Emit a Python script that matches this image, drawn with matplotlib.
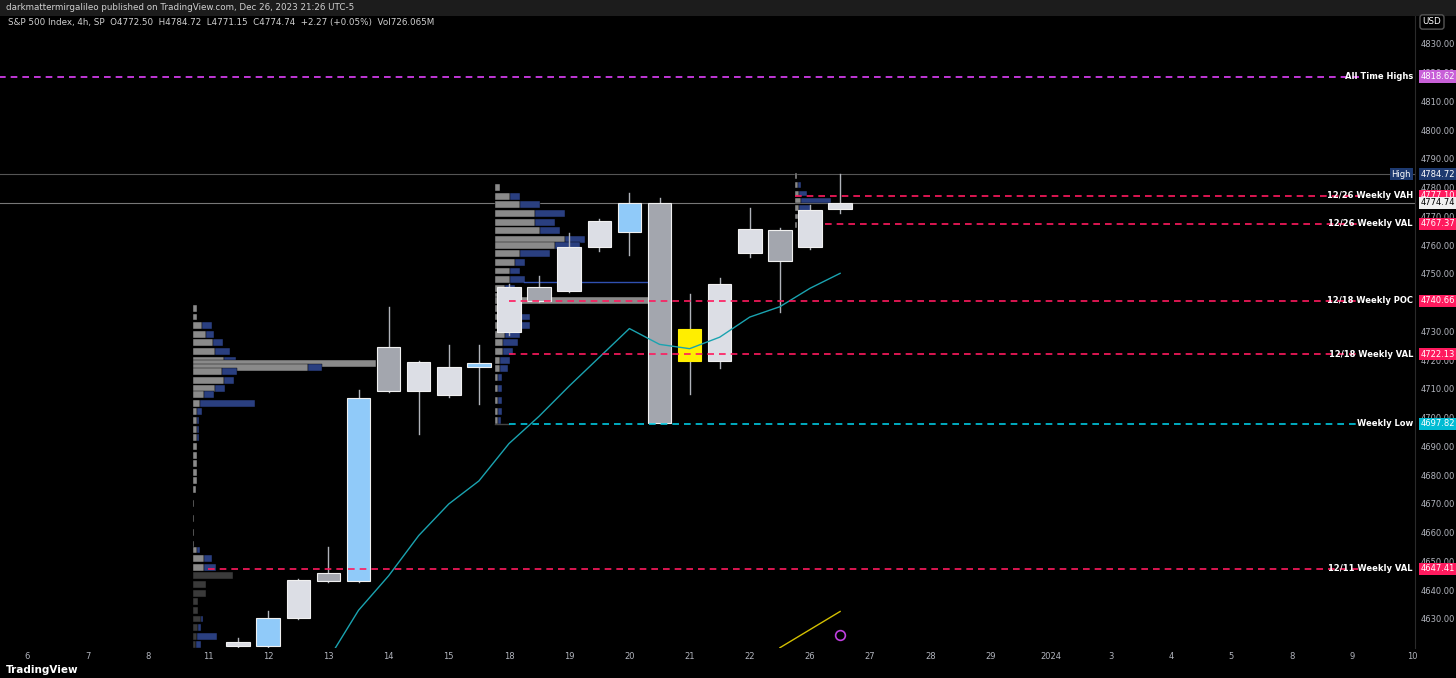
import matplotlib
matplotlib.use("Agg")
import matplotlib.pyplot as plt
from matplotlib.patches import Rectangle
import matplotlib.transforms as mtransforms

# ---------------- data ----------------
bar_idx = list(range(1, 22))
opens  = [4620.5, 4620.6, 4630.5, 4643.3, 4643.2, 4724.5, 4719.3, 4717.5, 4717.5, 4729.7, 4745.6,
          4744.0, 4759.5, 4764.5, 4774.7, 4730.8, 4719.6, 4757.4, 4765.3, 4759.2, 4772.50]
highs  = [4623.5, 4632.8, 4643.8, 4655.2, 4709.6, 4738.5, 4719.8, 4725.3, 4725.3, 4746.5, 4749.3,
          4764.1, 4769.0, 4778.1, 4776.3, 4743.0, 4748.5, 4772.8, 4766.0, 4773.8, 4784.72]
lows   = [4619.0, 4619.0, 4630.0, 4642.9, 4642.9, 4709.0, 4694.2, 4707.3, 4704.7, 4728.6, 4740.4,
          4743.6, 4757.8, 4756.7, 4698.0, 4708.4, 4717.4, 4755.8, 4736.7, 4758.6, 4771.15]
closes = [4622.0, 4630.5, 4643.6, 4646.1, 4706.8, 4709.3, 4709.3, 4707.8, 4718.9, 4745.6, 4740.6,
          4759.4, 4768.3, 4774.7, 4698.3, 4719.7, 4746.6, 4765.5, 4754.6, 4772.3, 4774.74]
colors = ["w", "b", "w", "g", "b", "g", "w", "w", "b", "w", "g",
          "w", "w", "b", "g", "y", "w", "w", "g", "w", "w"]

ema_idx = [4, 5, 6, 7, 8, 9, 10, 11, 12, 13, 14, 15, 16, 17, 18, 19, 20, 21]
ema_val = [4616, 4633, 4645, 4659, 4670, 4678, 4691, 4700.5, 4711, 4721, 4731, 4725.5, 4724,
           4728, 4735, 4738.6, 4745, 4750.2]
yel_idx = [19, 21]
yel_val = [4620, 4632.6]

level_prices = [4818.62, 4777.10, 4767.37, 4740.66, 4722.13, 4697.82, 4647.41]
level_labels = ["All Time Highs", "12/26 Weekly VAH", "12/26 Weekly VAL", "12/18 Weekly POC",
                "12/18 Weekly VAL", "Weekly Low", "12/11 Weekly VAL"]
level_start = [-7, 19.5, 20.5, 10, 10, 10, 0]

vp1_price = [4738, 4735, 4732, 4729, 4726, 4723, 4720, 4718.9, 4717.5, 4716, 4713, 4710, 4708, 4705,
             4702, 4699, 4696, 4693, 4690, 4687, 4684, 4681, 4678, 4675, 4670, 4665, 4660, 4656,
             4654, 4651, 4648]
vp1_gray = [4, 4, 9, 13, 20, 22, 31, 183, 115, 29, 31, 22, 11, 7, 4, 4, 4, 4, 4, 4, 4, 4, 4, 3, 1, 1, 1, 1,
            4, 11, 11]
vp1_blue = [0, 0, 10, 8, 10, 15, 12, 0, 14, 15, 10, 10, 10, 55, 5, 2, 2, 2, 0, 0, 0, 0, 0, 0, 0, 0, 0, 0,
            3, 8, 12]
vp0_price = [4645, 4642, 4639, 4636, 4633, 4630, 4627, 4624, 4621]
vp0_gray = [40, 13, 13, 5, 5, 8, 5, 4, 3]
vp0_blue = [0, 0, 0, 0, 0, 2, 3, 20, 5]

vp2_price = [4780, 4777, 4774, 4771, 4768, 4765, 4762, 4760, 4757, 4754, 4751, 4748, 4745, 4742, 4740.6,
             4738, 4735, 4732, 4729, 4726, 4723, 4720, 4717, 4714, 4710, 4706, 4702, 4699]
vp2_gray = [5, 15, 25, 40, 40, 45, 70, 60, 25, 20, 15, 15, 10, 10, 154, 15, 20, 20, 10, 8, 8, 5, 5, 3,
            3, 3, 3, 3]
vp2_blue = [0, 10, 20, 30, 20, 20, 20, 25, 30, 10, 10, 15, 10, 5, 10, 10, 15, 15, 15, 15, 10, 10, 8, 4,
            4, 4, 4, 3]

vp3_price = [4784, 4781, 4778, 4775.5, 4773, 4770, 4767]
vp3_gray = [2, 3, 4, 6, 4, 3, 2]
vp3_blue = [0, 3, 8, 30, 12, 0, 0]

xtick_pos = list(range(-6, 41, 2))
xtick_lab = ["6", "7", "8", "11", "12", "13", "14", "15", "18", "19", "20", "21", "22", "26", "27",
             "28", "29", "2024", "3", "4", "5", "8", "9", "10"]
ytick_vals = list(range(4630, 4831, 10))

# ---------------- drawing ----------------
W, H = 1456, 678
fig = plt.figure(figsize=(W / 100, H / 100), dpi=100, facecolor="#000000")
ax = fig.add_axes([0, 30 / H, 1415 / W, (648 - 16) / H])
ax.set_facecolor("#000000")
PX = 30.1
ax.set_xlim(-208 / PX, (1415 - 208) / PX)
ax.set_ylim(4619.9, 4839.7)

cmap = {"w": "#dcdee5", "b": "#90caf9", "g": "#a3a6ae", "y": "#ffee00"}
bw = 0.78
for i, o, h, l, c, k in zip(bar_idx, opens, highs, lows, closes, colors):
    ax.plot([i, i], [l, h], color="#b0b3ba", lw=1, zorder=3)
    lo, hi = min(o, c), max(o, c)
    ax.add_patch(Rectangle((i - bw / 2, lo), bw, max(hi - lo, 0.4), facecolor=cmap[k],
                           edgecolor="#f0f0f0" if k != "y" else "#ffee00", lw=0.8, zorder=4))

def profile(x_start, prices, gray, blue, gcol="#8a8a8a", hgt=2.4):
    for p, g, b in zip(prices, gray, blue):
        ax.add_patch(Rectangle((x_start, p - hgt / 2), g / PX, hgt, facecolor=gcol,
                               edgecolor="#000000", lw=0.3, zorder=2))
        if b:
            ax.add_patch(Rectangle((x_start + g / PX, p - hgt / 2), b / PX, hgt,
                                   facecolor="#2a3f80", edgecolor="#000000", lw=0.3, zorder=2))

profile((193 - 208) / PX, vp1_price, vp1_gray, vp1_blue)
profile((193 - 208) / PX, vp0_price, vp0_gray, vp0_blue, gcol="#3a3a3a")
profile((495 - 208) / PX, vp2_price, vp2_gray, vp2_blue)
profile((795 - 208) / PX, vp3_price, vp3_gray, vp3_blue, hgt=2.0)
ax.plot([10.5, 15], [4747.1, 4747.1], color="#3050b0", lw=1, zorder=2)
ax.plot([(495 - 208) / PX, 10], [4697.9, 4697.9], color="#444444", lw=1, zorder=2)

ax.plot(ema_idx, ema_val, color="#1aa3b0", lw=1, zorder=5)
ax.plot(yel_idx, yel_val, color="#d4c000", lw=1, zorder=5)

ax.axhline(4784.72, color="#555555", lw=0.8, zorder=1)
ax.axhline(4774.74, color="#777777", lw=0.8, zorder=1)

lcol = ["#e040fb", "#ff1a5e", "#ff1a5e", "#ff1a5e", "#ff1a5e", "#00c8e0", "#ff1a5e"]
bcol = ["#c860d8", "#ff1a5e", "#ff1a5e", "#ff1a5e", "#ff1a5e", "#00bcd4", "#ff1a5e"]
x_end = (1360 - 208) / PX
for p, lab, xs, lc in zip(level_prices, level_labels, level_start, lcol):
    ax.plot([xs, x_end], [p, p], color=lc, lw=1.2, ls=(0, (4, 3)), zorder=6)
    ax.text((1413 - 208) / PX, p, lab, color="white", fontsize=6, fontweight="bold",
            ha="right", va="center", zorder=7)

tr = mtransforms.blended_transform_factory(ax.transAxes, ax.transData)
def pbox(p, txt, fc, tc="white"):
    ax.text(1.004, p, txt, transform=tr, fontsize=6, color=tc, ha="left", va="center",
            bbox=dict(boxstyle="square,pad=0.2", fc=fc, ec="none"), clip_on=False, zorder=8)

for p, bc in zip(level_prices, bcol):
    pbox(p, f"{p:.2f}", bc)
pbox(4784.72, "4784.72", "#1e3a70")
pbox(4774.74, "4774.74", "#f0f0f0", tc="black")
ax.text((1411 - 208) / PX, 4784.72, "High", fontsize=6, color="white", ha="right", va="center",
        bbox=dict(boxstyle="square,pad=0.2", fc="#1e3a70", ec="none"), zorder=8)

ax.plot([21], [4624.5], marker="o", ms=7, mfc="none", mec="#c040e0", mew=1.2, zorder=6)

ax.yaxis.tick_right()
ax.set_yticks(ytick_vals)
ax.set_yticklabels([f"{v:.2f}" for v in ytick_vals])
ax.set_xticks(xtick_pos)
ax.set_xticklabels(xtick_lab)
ax.tick_params(axis="both", length=0, colors="#b2b5be", labelsize=6)
ax.tick_params(axis="y", pad=4)
ax.tick_params(axis="x", pad=3)
for s in ax.spines.values():
    s.set_visible(False)
ax.spines["right"].set_visible(True)
ax.spines["right"].set_color("#2a2a2a")

fig.patches.append(Rectangle((0, 1 - 16 / H), 1, 16 / H, transform=fig.transFigure,
                             facecolor="#1c1c1c", zorder=0))
fig.text(6 / W, 1 - 8 / H, "darkmattermirgalileo published on TradingView.com, Dec 26, 2023 21:26 UTC-5",
         fontsize=6.3, color="#d0d0d0", va="center")
fig.text(8 / W, 1 - 22 / H, "S&P 500 Index, 4h, SP  O4772.50  H4784.72  L4771.15  C4774.74  +2.27 (+0.05%)  Vol726.065M",
         fontsize=6.3, color="#d0d0d0", va="center")
fig.text(1432 / W, 1 - 22 / H, "USD", fontsize=6.3, color="white", ha="center", va="center",
         bbox=dict(boxstyle="round,pad=0.3", fc="#000000", ec="#555555"))
fig.text(6 / W, 8 / H, "TradingView", fontsize=7.5, color="white", fontweight="bold", va="center")

fig.savefig("out.png", dpi=100, facecolor="#000000")
